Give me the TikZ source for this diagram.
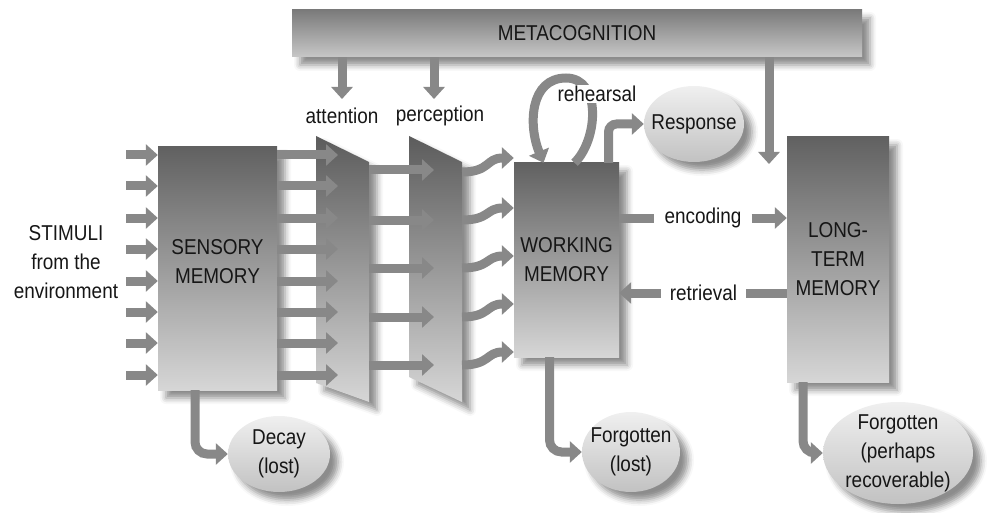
\documentclass[tikz,border=0pt]{standalone}
\usepackage{fontspec}
\setmainfont[FakeStretch=0.88]{Liberation Sans}
\usetikzlibrary{arrows.meta,shapes.geometric,shadows.blur,calc}

\definecolor{arrowgray}{HTML}{888888}
\definecolor{ink}{HTML}{161616}

\tikzset{
  every node/.style={text=ink, align=center, font=\fontsize{21.5}{29}\selectfont},
  fat/.style={draw=arrowgray, line width=9pt},
  fatarrow/.style={fat, -{Triangle[length=12pt,width=21pt]}},
  softshadow/.style={blur shadow={shadow xshift=8pt, shadow yshift=-8pt,
      shadow blur radius=6pt, shadow opacity=45}},
  membox/.style={rectangle, top color=black!62, bottom color=black!16,
      softshadow, inner sep=0pt},
  panel/.style={top color=black!64, bottom color=black!16, softshadow},
  outcome/.style={ellipse, top color=black!6, bottom color=black!24,
      softshadow, inner sep=0pt},
}

\begin{document}
\begin{tikzpicture}[x=1pt,y=-1pt]
\useasboundingbox (0,0) rectangle (987,513);

% executive control bar
\node[membox, top color=black!52, bottom color=black!22,
      minimum width=570pt, minimum height=47pt] (meta) at (577,33.5) {METACOGNITION};

% memory stores
\node[membox, minimum width=119pt, minimum height=243pt] (sensory) at (217.5,268.5) {};
\node (senstext) at (217.5,262) {SENSORY\\MEMORY};
\node[membox, minimum width=105pt, minimum height=194pt] (wm) at (566.5,260) {WORKING\\MEMORY};
\node[membox, minimum width=102pt, minimum height=245pt] (ltm) at (838,259.5) {LONG-\\TERM\\MEMORY};

% outcomes
\node[outcome, minimum width=100pt, minimum height=76pt, label=center:Response] (response) at (694,124) {};
\node[outcome, minimum width=102pt, minimum height=76pt, label=center:{Decay\\(lost)}] (decay) at (279,454) {};
\node[outcome, minimum width=98pt, minimum height=80pt, label=center:{Forgotten\\(lost)}] (forgot) at (631,452) {};
\node[outcome, minimum width=150pt, minimum height=102pt,
      label=center:{Forgotten\\(perhaps\\recoverable)}] (forgotltm) at (898,453) {};

% labels
\node (stimuli) at (66,262) {STIMULI\\from the\\environment};
\node (attlabel) at (342,116) {attention};
\node (perclabel) at (440,116) {perception};

% filter panels
\path[panel] (316,136) -- (369,162) -- (369,402) -- (316,383) -- cycle;
\path[panel] (409,136) -- (462,162) -- (462,402) -- (409,377) -- cycle;

% incoming stimuli and sensory output
\foreach \y in {155,186,218,249,281,312,343,375} {
  \draw[fatarrow] (126,\y) -- (sensory.west |- 0,\y);
  \draw[fatarrow] (sensory.east |- 0,\y) -- (338,\y);
}
% attended information
\foreach \y in {170,220,268,317,365}
  \draw[fatarrow] (369,\y) -- (434,\y);
% perceived information into working memory
\foreach \ya/\yb in {172/158,220/208,268/256,317/304,365/352}
  \draw[fatarrow] (462,\ya) .. controls (490,\ya) and (486,\yb) .. (wm.west |- 0,\yb);

% metacognitive control
\draw[fatarrow] (meta.south -| 342,0) -- (342,99);
\draw[fatarrow] (meta.south -| 434,0) -- (434,99);
\draw[fatarrow] (meta.south -| 769,0) -- (769,164);

% rehearsal loop
\draw[fatarrow] ([xshift=8pt]wm.north) .. controls (598,140) and (602,78) .. (566,78)
  .. controls (530,78) and (528,125) .. ([xshift=-23pt]wm.north);
\node[fill=white, inner sep=1pt] (reh) at (597,94) {rehearsal};

% response
\draw[fatarrow, rounded corners=8pt] ([xshift=42pt]wm.north) |- (response.west);

% encoding and retrieval
\node[inner xsep=10pt] (enc) at (703,218) {encoding};
\draw[fat] (wm.east |- enc) -- (enc.west);
\draw[fatarrow] (enc.east) -- (ltm.west |- enc);
\node[inner xsep=9pt] (ret) at (703.5,293) {retrieval};
\draw[fat] (ltm.west |- ret) -- (ret.east);
\draw[fatarrow] (ret.west) -- (wm.east |- ret);

% losses
\draw[fatarrow, rounded corners=12pt] ([xshift=-22.5pt]sensory.south) |- (decay.west);
\draw[fatarrow, rounded corners=12pt] ([xshift=-17pt]wm.south) |- (forgot.west);
\draw[fatarrow, rounded corners=12pt] ([xshift=-35pt]ltm.south) |- (forgotltm.west);
\end{tikzpicture}
\end{document}
